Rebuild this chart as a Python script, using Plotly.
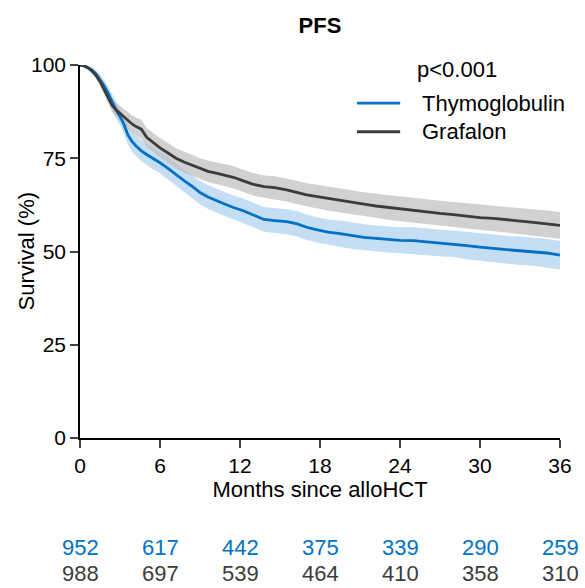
import plotly.graph_objects as go

# ---- data ----
months = [0, 0.3, 0.6, 0.9, 1.2, 1.5, 1.8, 2.1, 2.4, 2.7, 3.0, 3.3, 3.6, 3.9, 4.2, 4.6,
          5.0, 5.5, 6.0, 6.6, 7.2, 7.8, 8.4, 9.0, 9.6, 10.2, 10.8, 11.5, 12.2, 13.0,
          13.8, 14.6, 15.5, 16.3, 17.0, 17.8, 18.6, 19.5, 20.4, 21.3, 22.2, 23.1, 24.0,
          25.0, 26.0, 27.0, 28.0, 29.0, 30.0, 31.0, 32.0, 33.0, 34.0, 35.0, 36.0]

thymo_surv = [100, 99.8, 99.3, 98.6, 97.6, 96.2, 94.5, 92.5, 90.2, 88.0, 86.2, 84.0, 81.2,
              79.5, 78.3, 77.0, 76.0, 75.0, 73.8, 72.3, 70.6, 69.0, 67.5, 65.8, 64.6, 63.6,
              62.8, 61.8, 61.0, 59.8, 58.6, 58.3, 58.0, 57.4, 56.5, 55.8, 55.2, 54.8, 54.2,
              53.8, 53.5, 53.2, 53.0, 52.9, 52.6, 52.3, 52.1, 51.6, 51.2, 50.8, 50.5, 50.2,
              50.0, 49.6, 49.0]
thymo_ci_half = [0, 0.3, 0.5, 0.8, 1.0, 1.3, 1.5, 1.8, 2.0, 2.2, 2.3, 2.4, 2.6, 2.7, 2.7,
                 2.8, 2.8, 2.9, 2.9, 3.0, 3.0, 3.1, 3.1, 3.1, 3.2, 3.2, 3.2, 3.2, 3.3, 3.3,
                 3.3, 3.3, 3.4, 3.4, 3.4, 3.4, 3.4, 3.5, 3.5, 3.5, 3.5, 3.5, 3.5, 3.6, 3.6,
                 3.6, 3.6, 3.7, 3.7, 3.7, 3.7, 3.8, 3.8, 3.8, 3.8]

graf_surv = [100, 99.8, 99.2, 98.4, 97.2, 95.6, 93.5, 91.2, 89.2, 88.0, 87.0, 86.0, 85.0,
             84.2, 83.5, 82.8, 80.6, 79.2, 77.8, 76.4, 75.0, 74.0, 73.1, 72.2, 71.5, 71.0,
             70.5, 69.9, 69.0, 68.0, 67.4, 67.1, 66.5, 65.8, 65.2, 64.7, 64.2, 63.8, 63.2,
             62.7, 62.2, 61.8, 61.4, 61.0, 60.6, 60.2, 59.9, 59.5, 59.1, 58.9, 58.6, 58.2,
             57.8, 57.4, 57.0]
graf_ci_half = [0, 0.3, 0.5, 0.7, 0.9, 1.1, 1.3, 1.5, 1.7, 1.9, 2.0, 2.1, 2.2, 2.3, 2.4,
                2.5, 2.5, 2.6, 2.6, 2.7, 2.7, 2.8, 2.8, 2.8, 2.9, 2.9, 2.9, 3.0, 3.0, 3.0,
                3.0, 3.1, 3.1, 3.1, 3.1, 3.2, 3.2, 3.2, 3.2, 3.2, 3.3, 3.3, 3.3, 3.3, 3.4,
                3.4, 3.4, 3.4, 3.5, 3.5, 3.5, 3.5, 3.6, 3.6, 3.6]

risk_months = [0, 6, 12, 18, 24, 30, 36]
thymo_at_risk = [952, 617, 442, 375, 339, 290, 259]
graf_at_risk = [988, 697, 539, 464, 410, 358, 310]
x_ticks = [0, 6, 12, 18, 24, 30, 36]
y_ticks = [0, 25, 50, 75, 100]
group_names = ["Thymoglobulin", "Grafalon"]

BLUE = "#0072C6"
BLUE_BAND = "rgba(160,200,235,0.6)"
GRAY = "#3C3C3C"
GRAY_BAND = "rgba(190,190,190,0.7)"
FONT = "Liberation Sans, Arial, sans-serif"
TXT = 22
TICK = 21

fig = go.Figure()


def band(surv, half, color):
    upper = [s + h for s, h in zip(surv, half)]
    lower = [s - h for s, h in zip(surv, half)]
    fig.add_trace(go.Scatter(x=months, y=upper, mode="lines", line=dict(width=0),
                             showlegend=False, hoverinfo="skip"))
    fig.add_trace(go.Scatter(x=months, y=lower, mode="lines", line=dict(width=0),
                             fill="tonexty", fillcolor=color, showlegend=False,
                             hoverinfo="skip"))


band(thymo_surv, thymo_ci_half, BLUE_BAND)
band(graf_surv, graf_ci_half, GRAY_BAND)

fig.add_trace(go.Scatter(x=months, y=thymo_surv, mode="lines", name=group_names[0],
                         line=dict(color=BLUE, width=2.8), showlegend=False))
fig.add_trace(go.Scatter(x=months, y=graf_surv, mode="lines", name=group_names[1],
                         line=dict(color=GRAY, width=2.8), showlegend=False))

# legend (drawn manually to match the reference's sample length and spacing)
for name, color, ly in zip(group_names, [BLUE, GRAY], [0.898, 0.821]):
    fig.add_shape(type="line", xref="paper", yref="paper", x0=0.577, x1=0.667, y0=ly, y1=ly,
                  line=dict(color=color, width=2.8))
    fig.add_annotation(x=0.708, y=ly, xref="paper", yref="paper", text=name, showarrow=False,
                       xanchor="left", yanchor="middle",
                       font=dict(size=TXT, color="black", family=FONT))

# number at risk table
for m, n in zip(risk_months, thymo_at_risk):
    fig.add_annotation(x=m, y=-0.293, xref="x", yref="paper", text=str(n), showarrow=False,
                       font=dict(size=TXT, color=BLUE, family=FONT), yanchor="middle")
for m, n in zip(risk_months, graf_at_risk):
    fig.add_annotation(x=m, y=-0.363, xref="x", yref="paper", text=str(n), showarrow=False,
                       font=dict(size=TXT, color=GRAY, family=FONT), yanchor="middle")

fig.add_annotation(x=0.785, y=0.987, xref="paper", yref="paper", text="p<0.001",
                   showarrow=False, xanchor="center", yanchor="middle",
                   font=dict(size=TXT, color="black", family=FONT))

# y-axis title
fig.add_annotation(x=-0.1125, y=0.5, xref="paper", yref="paper", text="Survival (%)",
                   textangle=-90, showarrow=False, xanchor="center", yanchor="middle",
                   font=dict(size=TXT, color="black", family=FONT))

fig.update_layout(
    width=585, height=588,
    margin=dict(l=80, r=25, t=65, b=150, autoexpand=False),
    paper_bgcolor="white", plot_bgcolor="white",
    font=dict(family=FONT, size=TXT, color="black"),
    title=dict(text="<b>PFS</b>", x=0.547, xanchor="center", y=0.957, yanchor="middle",
               font=dict(size=TXT, color="black", family=FONT)),
    showlegend=False,
)
fig.update_xaxes(range=[0, 36], tickvals=x_ticks, ticks="outside", ticklen=8, tickwidth=1.5,
                 showline=True, linecolor="black", linewidth=1.5, showgrid=False,
                 zeroline=False,
                 title=dict(text="Months since alloHCT", standoff=4,
                            font=dict(size=TXT)),
                 tickfont=dict(size=TICK), automargin=False)
fig.update_yaxes(range=[0, 100], tickvals=y_ticks, ticks="outside", ticklen=8, tickwidth=1.5,
                 showline=True, linecolor="black", linewidth=1.5, showgrid=False,
                 zeroline=False, tickfont=dict(size=TICK), automargin=False)

fig.write_html("out.html")
